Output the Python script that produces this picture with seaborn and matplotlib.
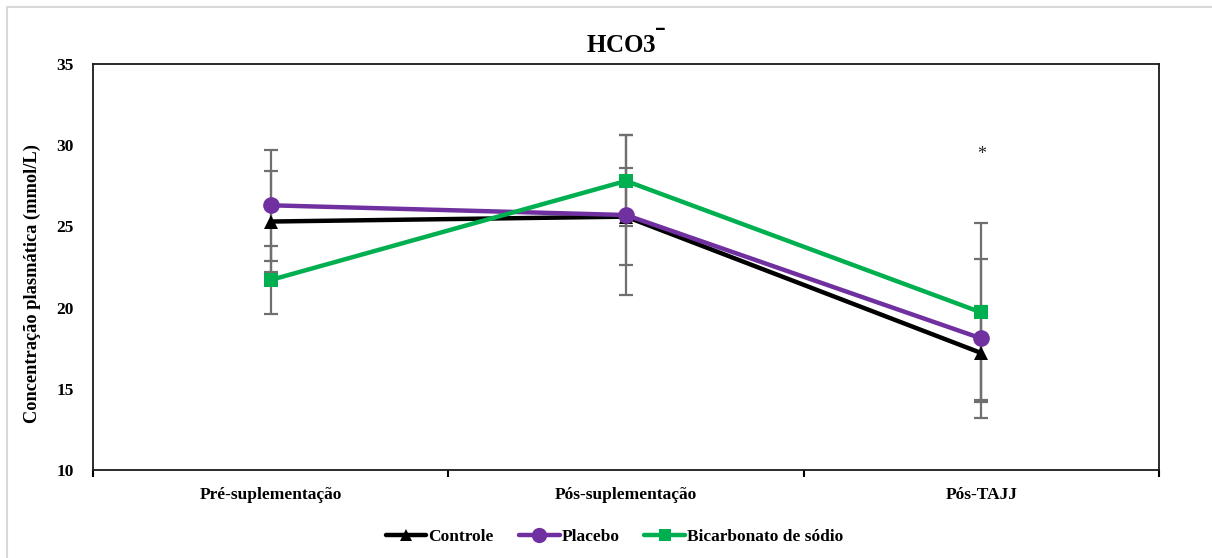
import matplotlib
matplotlib.use("Agg")
import matplotlib.pyplot as plt
from matplotlib.lines import Line2D
import seaborn as sns
import pandas as pd

# Time points and group summaries (mean ± SD, mmol/L)
moments = ["Pré-suplementação", "Pós-suplementação", "Pós-TAJJ"]
groups = ["Controle", "Placebo", "Bicarbonato de sódio"]
controle_mean = [25.3, 25.6, 17.2]
controle_sd = [3.1, 3.0, 2.9]
placebo_mean = [26.3, 25.7, 18.1]
placebo_sd = [3.4, 4.9, 4.9]
bicarb_mean = [21.7, 27.8, 19.7]
bicarb_sd = [2.1, 2.8, 5.5]
y_ticks = [10, 15, 20, 25, 30, 35]

sns.set_theme(style="white")
plt.rcParams["font.family"] = ["Liberation Serif", "DejaVu Serif"]
plt.rcParams["font.weight"] = "bold"
plt.rcParams["text.color"] = "black"
plt.rcParams["axes.labelcolor"] = "black"
plt.rcParams["xtick.color"] = "black"
plt.rcParams["ytick.color"] = "black"

fig = plt.figure(figsize=(12.12, 5.58), dpi=100)
ax = fig.add_axes([0.0767, 0.1577, 0.8796, 0.7276])

colors = ["#000000", "#7030A0", "#00B050"]
markers = ["^", "o", "s"]
msizes = [10, 12, 10]
means = [controle_mean, placebo_mean, bicarb_mean]
sds = [controle_sd, placebo_sd, bicarb_sd]

rows = []
for g, m, s in zip(groups, means, sds):
    for i, (mv, sv) in enumerate(zip(m, s)):
        rows.append({"grupo": g, "pos": i, "media": mv, "dp": sv})
df = pd.DataFrame(rows)

# error bars first, underneath the lines
for g in groups:
    d = df[df["grupo"] == g]
    ax.errorbar(d["pos"], d["media"], yerr=d["dp"], fmt="none",
                ecolor="#6f6f6f", elinewidth=1.6, capsize=5, capthick=1.6,
                zorder=1)

for g, c, mk, ms in zip(groups, colors, markers, msizes):
    d = df[df["grupo"] == g]
    sns.lineplot(data=d, x="pos", y="media", color=c, lw=3.2, marker=mk,
                 markersize=ms, markeredgewidth=0, ax=ax, zorder=3,
                 legend=False, errorbar=None)

ax.text(2, 29.4, "*", ha="center", va="center", fontsize=13,
        color="#222222", fontweight="normal")

ax.set_xlim(-0.5, 2.5)
ax.set_ylim(10, 35)
ax.set_yticks(y_ticks)
ax.set_yticklabels([str(t) for t in y_ticks], fontsize=12.5, fontweight="bold")
ax.set_xticks(range(len(moments)))
ax.set_xticklabels(moments, fontsize=12.5, fontweight="bold")
ax.set_xticks([-0.5, 0.5, 1.5, 2.5], minor=True)
ax.tick_params(axis="x", which="major", length=0, pad=12)
ax.tick_params(axis="x", which="minor", length=5, width=1.5, color="black",
               direction="out", bottom=True)
ax.tick_params(axis="y", length=0, pad=14)
ax.set_xlabel("")
ax.set_ylabel("Concentração plasmática (mmol/L)", fontsize=13.2,
              fontweight="bold")
ax.yaxis.set_label_coords(-0.049, 0.46)
for sp in ax.spines.values():
    sp.set_color("#1a1a1a")
    sp.set_linewidth(1.3)
ax.set_title("HCO3$^{\\mathbf{‾}}$", fontsize=18, fontweight="bold", pad=8)

handles = [Line2D([], [], color=c, lw=3.2, marker=mk, markersize=ms - 1,
                  markeredgewidth=0)
           for c, mk, ms in zip(colors, markers, msizes)]
fig.legend(handles, groups, loc="center", bbox_to_anchor=(0.507, 0.037),
           ncol=3, frameon=False, handlelength=2.35, handletextpad=0.1,
           columnspacing=1.45, prop={"size": 12.5, "weight": "bold"})

# light page frame
fig.add_artist(Line2D([0.006, 0.006], [0.0, 0.988], color="#d9d9d9", lw=1.5,
                      transform=fig.transFigure))
fig.add_artist(Line2D([0.006, 1.0], [0.988, 0.988], color="#d9d9d9", lw=1.5,
                      transform=fig.transFigure))

fig.savefig("out.png", dpi=100, facecolor="white")
